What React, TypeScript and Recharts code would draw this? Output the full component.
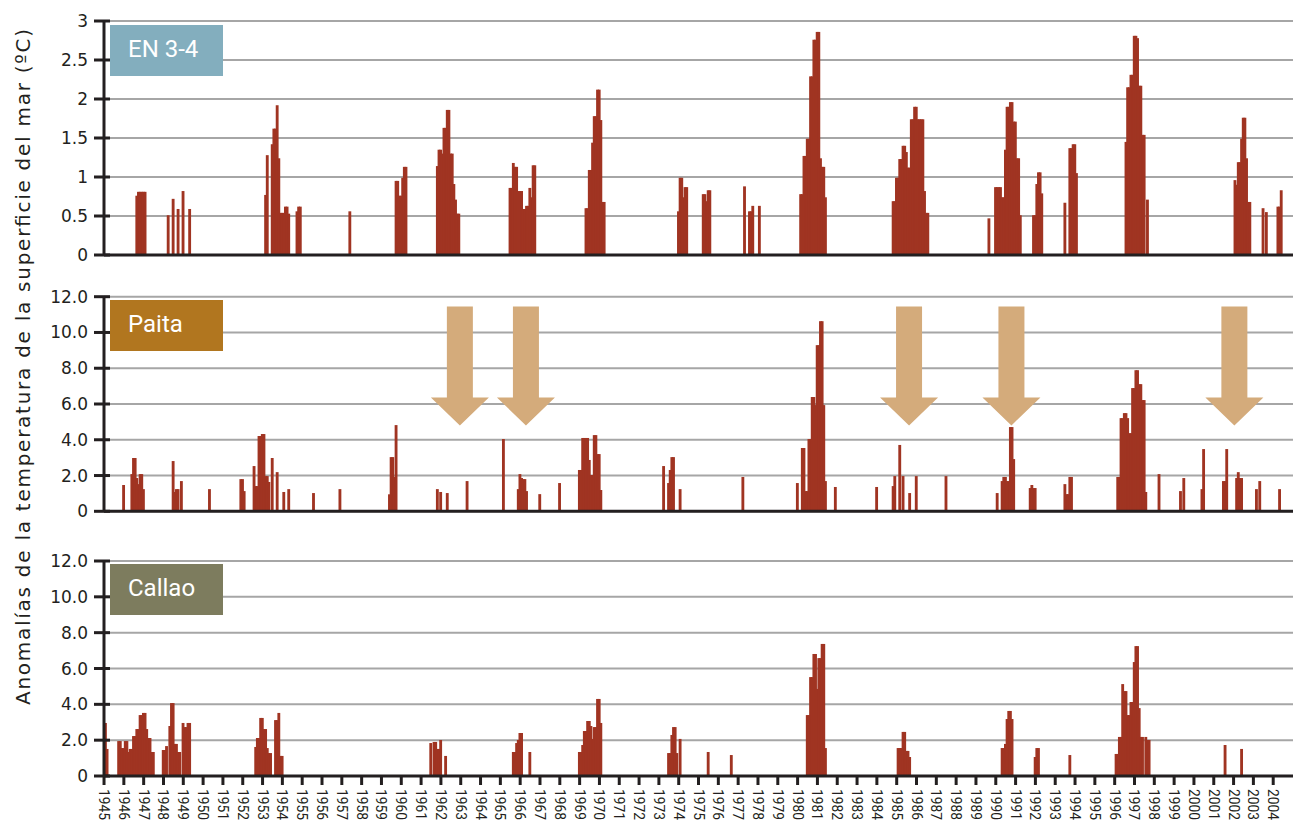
import React from "react";
import { BarChart, Bar, XAxis, YAxis, CartesianGrid, ReferenceDot } from "recharts";

// monthly anomalies, each run = [first month, consecutive monthly values]
const en34Runs: [string, number[]][] = [
  ["1946-08", [0.76, 0.81, 0.81, 0.81, 0.81, 0.81]],
  ["1948-03", [0.51, 0, 0, 0.72, 0, 0, 0.59, 0, 0, 0.82, 0, 0, 0, 0.59]],
  ["1953-02", [0.77, 1.28, 0, 0, 1.42, 1.62, 1.62, 1.92, 1.24, 0.54, 0.54, 0.54, 0.62, 0.62, 0.53]],
  ["1954-09", [0.56, 0.62, 0.62]],
  ["1957-05", [0.56]],
  ["1959-09", [0.95, 0.95, 0.76, 0.76, 0.99, 1.13, 1.13]],
  ["1961-10", [1.14, 1.35, 1.35, 1.3, 1.63, 1.63, 1.86, 1.86, 1.3, 1.3, 0.91, 0.71, 0.53, 0.53]],
  ["1965-06", [0.86, 0.86, 1.18, 1.13, 1.13, 0.82, 0.82, 0.82, 0.59, 0.59, 0.63, 0.63, 0.86, 0.74, 1.15, 1.15]],
  ["1969-04", [0.6, 0.6, 1.09, 1.09, 1.44, 1.78, 1.78, 2.12, 2.12, 1.73, 0.68, 0.68]],
  ["1973-12", [0.56, 0.99, 0.99, 0.74, 0.87, 0.87]],
  ["1975-03", [0.78, 0.78, 0.69, 0.83, 0.83]],
  ["1977-04", [0.88, 0, 0, 0.56, 0.56, 0.63, 0, 0, 0, 0.63]],
  ["1980-02", [0.78, 0.78, 1.27, 1.27, 1.49, 1.49, 2.29, 2.29, 2.76, 2.76, 2.86, 2.86, 1.24, 1.13, 1.13, 0.74]],
  ["1984-10", [0.69, 0.69, 0.99, 0.99, 1.23, 1.23, 1.4, 1.4, 1.32, 1.12, 1.12, 1.74, 1.74, 1.9, 1.9, 1.74, 1.74, 1.74, 1.74, 0.82, 0.54, 0.54]],
  ["1989-08", [0.47]],
  ["1989-12", [0.87, 0.87, 0.87, 0.87, 0.74, 0.74, 1.35, 1.9, 1.9, 1.96, 1.96, 1.71, 1.71, 1.24, 1.24, 0.51]],
  ["1991-11", [0.51, 0.51, 0.91, 1.06, 1.06, 0.79]],
  ["1993-06", [0.67, 0, 0, 1.37, 1.37, 1.42, 1.42, 1.05]],
  ["1996-07", [1.45, 2.15, 2.15, 2.31, 2.31, 2.81, 2.81, 2.78, 2.17, 2.17, 1.54, 1.54, 0, 0.71]],
  ["2002-01", [0.96, 0.9, 1.19, 1.19, 1.49, 1.76, 1.76, 1.24, 0.68, 0.68]],
  ["2003-06", [0.6, 0, 0.55]],
  ["2004-03", [0.62, 0.62, 0.83]],
];

const paitaRuns: [string, number[]][] = [
  ["1945-12", [1.47]],
  ["1946-05", [2.08, 2.98, 2.98, 1.86, 1.52, 2.08, 2.08, 1.24]],
  ["1948-06", [2.81, 1.08, 1.24, 1.24, 0, 1.69]],
  ["1950-04", [1.24]],
  ["1951-11", [1.8, 1.8, 1.13]],
  ["1952-07", [2.53, 1.41, 1.41, 4.21, 4.21, 4.32, 4.32, 1.97, 1.97, 1.64, 0, 2.98, 0, 0, 2.19, 0, 0, 0, 1.08, 0, 0, 1.24]],
  ["1955-07", [1.02]],
  ["1956-11", [1.24]],
  ["1959-05", [0.95, 3.03, 3.03, 1.92, 4.82]],
  ["1961-10", [1.24, 0, 1.08]],
  ["1962-04", [1.02]],
  ["1963-04", [1.69]],
  ["1965-02", [4.04]],
  ["1965-11", [1.24, 2.08, 1.86, 1.8, 1.8, 1.13]],
  ["1966-12", [0.96]],
  ["1967-12", [1.58]],
  ["1968-12", [2.31, 2.31, 4.1, 4.1, 4.1, 4.1, 2.87, 2.03, 2.03, 4.26, 4.26, 3.2, 3.2, 1.19]],
  ["1973-03", [2.53, 0, 0, 1.58, 2.31, 3.03, 3.03, 0, 0, 0, 1.24]],
  ["1977-03", [1.92]],
  ["1979-12", [1.58, 0, 0, 3.54, 3.54, 1.13, 1.13, 4.04, 4.04, 6.39, 6.39, 5.94, 9.29, 9.29, 10.63, 10.63, 5.94, 1.69]],
  ["1981-11", [1.36]],
  ["1983-12", [1.36]],
  ["1984-10", [1.41, 1.97, 0, 0, 3.71, 0, 1.97, 0, 0, 0, 1.02, 0, 0, 0, 1.97]],
  ["1987-06", [1.97]],
  ["1990-01", [1.02, 0, 0, 1.69, 1.92, 1.92, 1.69, 1.69, 4.71, 4.71, 2.92]],
  ["1991-09", [1.3, 1.47, 1.3, 1.3]],
  ["1993-06", [1.52, 0.96, 0.96, 1.92, 1.92]],
  ["1996-02", [1.92, 1.92, 5.21, 5.21, 5.49, 5.49, 5.21, 4.37, 4.37, 6.89, 6.89, 7.89, 7.89, 7.11, 7.11, 6.22, 6.22, 1.08]],
  ["1998-03", [2.08]],
  ["1999-04", [1.13, 0, 1.86]],
  ["2000-05", [1.24, 3.48]],
  ["2001-06", [1.69, 1.69, 3.48]],
  ["2002-02", [1.86, 2.19, 1.86, 1.86]],
  ["2003-02", [1.24, 0, 1.69]],
  ["2004-04", [1.24]],
];

const callaoRuns: [string, number[]][] = [
  ["1945-01", [2.96, 1.51]],
  ["1945-09", [1.95, 1.95, 1.56, 1.56, 1.95, 1.95, 1.34, 1.51, 1.51, 2.23, 2.23, 2.62, 2.62, 3.4, 3.4, 3.52, 3.52, 2.62, 2.12, 2.12, 1.34, 1.34]],
  ["1947-12", [1.45, 1.45, 1.67, 0, 2.79, 4.07, 4.07, 1.79, 1.79, 1.34, 1.34, 0, 2.96, 2.73, 2.73, 2.96, 2.96]],
  ["1952-08", [1.62, 2.12, 2.12, 3.24, 3.24, 2.62, 2.62, 1.56, 1.28, 1.28, 0, 0, 3.12, 3.12, 3.52, 1.12, 1.12]],
  ["1961-06", [1.84, 0, 1.9, 1.9, 1.51, 1.51, 2.01, 0, 0, 1.12]],
  ["1965-08", [1.34, 1.34, 1.84, 2.01, 2.4, 2.4, 0, 0, 0, 0, 1.34]],
  ["1968-12", [1.34, 1.34, 1.73, 2.51, 2.51, 3.07, 3.07, 2.79, 2.07, 2.73, 2.73, 4.3, 4.3, 2.96]],
  ["1973-06", [1.28, 1.28, 2.29, 2.73, 2.73, 1.28, 0, 2.07]],
  ["1975-06", [1.34]],
  ["1976-08", [1.17]],
  ["1980-06", [3.4, 3.4, 5.52, 5.52, 6.81, 6.81, 4.86, 6.58, 6.58, 7.37, 7.37, 1.56]],
  ["1985-01", [1.56, 1.56, 1.56, 2.46, 2.46, 1.4, 1.4, 1.06]],
  ["1990-04", [1.56, 1.56, 1.79, 3.18, 3.63, 3.63, 3.18]],
  ["1991-12", [1.06, 1.56, 1.56]],
  ["1993-09", [1.17]],
  ["1996-01", [1.23, 1.23, 2.18, 2.18, 5.13, 4.74, 4.74, 3.4, 3.4, 4.13, 4.13, 6.36, 7.25, 7.25, 3.79, 2.18, 2.18, 0, 2.18, 2.01, 2.01]],
  ["2001-07", [1.73]],
  ["2002-05", [1.51]],
];

// arrows in the Paita panel (month, tip value)
const arrowMonths = ["1962-12", "1966-04", "1985-08", "1990-10", "2002-01"];
const arrowTip = 4.8;

const en34Ticks = [0, 0.5, 1, 1.5, 2, 2.5, 3];
const coastTicks = [0, 2, 4, 6, 8, 10, 12];
const firstYear = 1945;
const lastYear = 2004;

const ink = "#231f20";
const barColor = "#a03422";
const gridColor = "#a6a6a6";
const arrowColor = "#d4ab7b";

const monthKeys: string[] = [];
for (let y = firstYear; y <= lastYear; y++) {
  for (let m = 1; m <= 12; m++) monthKeys.push(`${y}-${String(m).padStart(2, "0")}`);
}
const yearTicks = monthKeys.filter((k) => k.endsWith("-01"));

function expand(runs: [string, number[]][]) {
  const out = new Map<string, number>();
  runs.forEach(([start, vals]) => {
    const i0 = monthKeys.indexOf(start);
    vals.forEach((v, j) => {
      if (v > 0) out.set(monthKeys[i0 + j], v);
    });
  });
  return out;
}

const en34 = expand(en34Runs);
const paita = expand(paitaRuns);
const callao = expand(callaoRuns);

const data = monthKeys.map((key) => ({
  key,
  en34: en34.get(key) ?? 0,
  paita: paita.get(key) ?? 0,
  callao: callao.get(key) ?? 0,
}));

const BarShape = (props: any) => {
  const { x, y, height } = props;
  if (!height || height <= 0) return <g />;
  return <rect x={x} y={y} width={2.85} height={height} fill={barColor} />;
};

const ValueTick = (props: any) => {
  const { x, y, payload, fmt } = props;
  return (
    <g>
      <line x1={x - 10} x2={x + 6} y1={y} y2={y} stroke={ink} strokeWidth={3} />
      <text x={x - 16} y={y} textAnchor="end" dominantBaseline="central" fontSize={17} fill={ink} fontFamily="'DejaVu Sans', sans-serif">
        {fmt(payload.value)}
      </text>
    </g>
  );
};

const YearTick = (props: any) => {
  const { x, y, payload } = props;
  return (
    <g>
      <line x1={x - 0.8} x2={x - 0.8} y1={y} y2={y + 9} stroke={ink} strokeWidth={3} />
      <text
        transform={`translate(${x - 0.8},${y + 13}) rotate(90)`}
        textAnchor="start"
        dominantBaseline="central"
        fontSize={15.5}
        fill={ink}
        textLength={31}
        lengthAdjust="spacingAndGlyphs"
        fontFamily="Roboto, sans-serif"
      >
        {String(payload.value).slice(0, 4)}
      </text>
    </g>
  );
};

const ArrowShape = (props: any) => {
  const { cx, cy } = props;
  const pts = [
    [cx - 13, cy - 119],
    [cx + 13, cy - 119],
    [cx + 13, cy - 28],
    [cx + 29, cy - 28],
    [cx, cy],
    [cx - 29, cy - 28],
    [cx - 13, cy - 28],
  ]
    .map((p) => p.join(","))
    .join(" ");
  return <polygon points={pts} fill={arrowColor} />;
};

type PanelProps = {
  top: number;
  height: number;
  marginTop: number;
  marginBottom: number;
  dataKey: string;
  domain: [number, number];
  ticks: number[];
  fmt: (v: number) => string;
  years?: boolean;
  arrows?: boolean;
};

function Panel(p: PanelProps) {
  return (
    <div style={{ position: "absolute", left: 0, top: p.top }}>
      <BarChart
        width={1297}
        height={p.height}
        data={data}
        margin={{ top: p.marginTop, right: 4, bottom: p.marginBottom, left: 0 }}
        barCategoryGap={0}
        barGap={0}
      >
        <CartesianGrid vertical={false} stroke={gridColor} strokeWidth={2} />
        <XAxis
          dataKey="key"
          ticks={p.years ? yearTicks : undefined}
          interval={0}
          height={p.years ? 48 : 1}
          tickSize={0}
          tickMargin={0}
          tickLine={false}
          axisLine={{ stroke: ink, strokeWidth: 3 }}
          tick={p.years ? <YearTick /> : false}
        />
        <YAxis
          domain={p.domain}
          ticks={p.ticks}
          interval={0}
          width={104}
          tickSize={0}
          tickMargin={0}
          tickLine={false}
          axisLine={{ stroke: ink, strokeWidth: 3 }}
          tick={<ValueTick fmt={p.fmt} />}
        />
        <Bar dataKey={p.dataKey} fill={barColor} isAnimationActive={false} shape={<BarShape />} />
        {p.arrows &&
          arrowMonths.map((m) => (
            <ReferenceDot key={m} x={m} y={arrowTip} shape={ArrowShape} ifOverflow="visible" />
          ))}
      </BarChart>
    </div>
  );
}

const labelStyle = (top: number, bg: string): React.CSSProperties => ({
  position: "absolute",
  left: 110,
  top,
  width: 113,
  height: 51,
  background: bg,
  color: "#fff",
  fontFamily: "Roboto, sans-serif",
  fontSize: 24,
  lineHeight: "49px",
  paddingLeft: 18,
  boxSizing: "border-box",
});

export default function App() {
  const fmtTop = (v: number) => String(v);
  const fmtCoast = (v: number) => (v === 0 ? "0" : v.toFixed(1));
  return (
    <div style={{ position: "absolute", left: 0, top: 0, width: 1297, height: 824, background: "#fff", overflow: "hidden" }}>
      <Panel top={0} height={265} marginTop={21} marginBottom={9} dataKey="en34" domain={[0, 3]} ticks={en34Ticks} fmt={fmtTop} />
      <Panel top={280} height={240} marginTop={16.7} marginBottom={7.7} dataKey="paita" domain={[0, 12]} ticks={coastTicks} fmt={fmtCoast} arrows />
      <Panel top={545} height={279} marginTop={16} marginBottom={0} dataKey="callao" domain={[0, 12]} ticks={coastTicks} fmt={fmtCoast} years />
      <div style={labelStyle(25, "#83aebe")}>EN 3-4</div>
      <div style={labelStyle(300, "#b1761f")}>Paita</div>
      <div style={labelStyle(564, "#7d7c5e")}>Callao</div>
      <svg width={50} height={824} style={{ position: "absolute", left: 0, top: 0 }}>
        <text
          transform="translate(23,367) rotate(-90)"
          textAnchor="middle"
          dominantBaseline="central"
          fontSize={20}
          fill={ink}
          fontFamily="'DejaVu Sans', sans-serif"
          textLength={676}
          lengthAdjust="spacing"
        >
          Anomalías de la temperatura de la superficie del mar (ºC)
        </text>
      </svg>
    </div>
  );
}
